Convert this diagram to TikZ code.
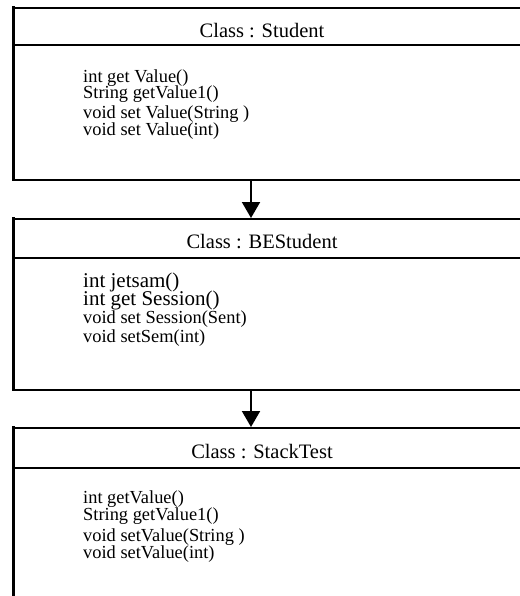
\documentclass[tikz,border=0pt]{standalone}
\usepackage{fontspec}
\setmainfont{Liberation Serif}
\usetikzlibrary{arrows.meta}
\begin{document}
\begin{tikzpicture}[x=1pt,y=-1pt,
  classbox/.style={draw, line width=1.6pt, minimum width=517pt, inner sep=0pt, anchor=north west},
  divider/.style={line width=1.3pt},
  leftedge/.style={line width=3pt},
  header/.style={font=\fontsize{20.5}{24}\selectfont, anchor=base, inner sep=0pt},
  method/.style={font=\fontsize{18.4}{20}\selectfont, anchor=base west, inner sep=0pt},
  bigmethod/.style={font=\fontsize{21}{24}\selectfont, anchor=base west, inner sep=0pt},
  inherit/.style={line width=2pt, -{Triangle[width=18pt,length=16pt]}}]
\useasboundingbox (0,0) rectangle (519,596);
\fill[white] (0,0) rectangle (519,596);
\coordinate (axis) at (251,0);
% boxes
\node[classbox, minimum height=172pt] (student) at (13,7) {};
\node[classbox, minimum height=171pt] (be) at (13,218) {};
\node[classbox, minimum height=193pt] (stack) at (13,427) {};
\foreach \b in {student,be,stack}{
  \draw[leftedge] ([yshift=0.8pt]\b.north west) -- ([yshift=-0.8pt]\b.south west);
}
\draw[divider] ([yshift=-38pt]student.north west) -- ([yshift=-38pt]student.north east);
\draw[divider] ([yshift=-40pt]be.north west) -- ([yshift=-40pt]be.north east);
\draw[divider] ([yshift=-41pt]stack.north west) -- ([yshift=-41pt]stack.north east);
% headers
\node[header] (t1) at (262,38) {Class : Student};
\node[header] (t2) at (262,248) {Class : BEStudent};
\node[header] (t3) at (262,458) {Class : StackTest};
% box 1 methods
\node[method] (m11) at (83,83) {int get Value()};
\node[method] (m12) at (83,99) {String getValue1()};
\node[method] (m13) at (83,119) {void set Value(String )};
\node[method] (m14) at (83,136) {void set Value(int)};
% box 2 methods
\node[bigmethod] (m21) at (83,287) {int jetsam()};
\node[bigmethod] (m22) at (83,305) {int get Session()};
\node[method] (m23) at (83,323) {void set Session(Sent)};
\node[method] (m24) at (83,342) {void setSem(int)};
% box 3 methods
\node[method] (m31) at (83,503) {int getValue()};
\node[method] (m32) at (83,520) {String getValue1()};
\node[method] (m33) at (83,541) {void setValue(String )};
\node[method] (m34) at (83,558) {void setValue(int)};
% connectors
\draw[inherit] (student.south -| axis) -- (be.north -| axis);
\draw[inherit] (be.south -| axis) -- (stack.north -| axis);
\end{tikzpicture}
\end{document}
